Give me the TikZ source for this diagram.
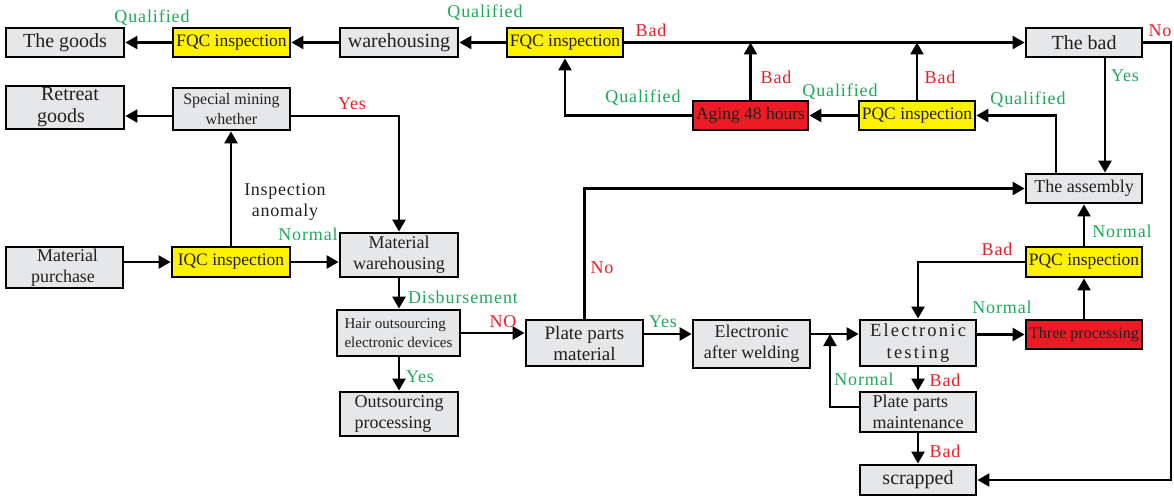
\documentclass[tikz,border=0pt]{standalone}
\usepackage{fontspec}
\setmainfont{Liberation Serif}
\usetikzlibrary{arrows.meta}
\definecolor{bxgray}{RGB}{230,231,233}
\definecolor{bxyel}{RGB}{255,242,0}
\definecolor{bxred}{RGB}{237,28,36}
\definecolor{lbgreen}{RGB}{28,170,90}
\definecolor{lbred}{RGB}{237,28,36}
\definecolor{txtc}{RGB}{35,31,32}
\tikzset{
  box/.style={draw=black, line width=2.8pt, inner sep=1pt, align=center, text=txtc,
    font=\fontsize{18}{21}\selectfont},
  gbox/.style={box, fill=bxgray},
  ybox/.style={box, fill=bxyel},
  rbox/.style={box, fill=bxred},
  big/.style={font=\fontsize{20}{22}\selectfont},
  conn/.style={line width=2.4pt, -{Triangle[length=12pt,width=13pt]}},
  lab/.style={inner sep=0pt, font=\fontsize{18}{21}\selectfont\addfontfeatures{LetterSpace=5}},
  glab/.style={lab, text=lbgreen},
  rlab/.style={lab, text=lbred},
  klab/.style={lab, text=txtc, align=center, font=\fontsize{18}{21}\selectfont\addfontfeatures{LetterSpace=4}}
}
\newcommand\bx[7]{%
  \pgfmathsetmacro\bw{#4-#2}\pgfmathsetmacro\bh{#5-#3}%
  \node[#6, minimum width=\bw pt, minimum height=\bh pt] (#1) at ({(#2+#4)/2},{(#3+#5)/2}) {#7};}
\begin{document}
\begin{tikzpicture}[x=1pt,y=-1pt]
\useasboundingbox (0,0) rectangle (1174,495);
% boxes
\bx{goods}{6}{28}{124}{57}{gbox,big}{The goods}
\bx{fqcA}{173}{28}{290}{57}{ybox,font=\fontsize{17.5}{20}\selectfont}{FQC inspection}
\bx{wareh}{340}{28}{458}{57}{gbox,big}{warehousing}
\bx{fqcB}{507}{28}{623}{57}{ybox,font=\fontsize{17.5}{20}\selectfont}{FQC inspection}
\bx{bad}{1026}{28}{1142}{57}{gbox,big}{The bad}
\bx{retreat}{6}{86}{124}{129}{gbox,big,align=left,font=\fontsize{20}{22}\selectfont}{\hspace*{10pt}Retreat\\\hspace*{6pt}goods}
\bx{special}{173}{88}{290}{130}{gbox,font=\fontsize{16}{20}\selectfont}{Special mining\\whether}
\bx{aging}{693}{101}{808}{130}{rbox,font=\fontsize{17.5}{20}\selectfont}{Aging 48 hours}
\bx{pqcA}{859}{101}{975}{130}{ybox,font=\fontsize{17.5}{20}\selectfont}{PQC inspection}
\bx{assembly}{1026}{174}{1142}{203}{gbox}{The assembly}
\bx{pqcB}{1026}{247}{1142}{277}{ybox,font=\fontsize{17.5}{20}\selectfont}{PQC inspection}
\bx{three}{1026}{320}{1142}{349}{rbox,inner sep=0pt,font=\fontsize{16}{20}\selectfont}{Three processing}
\bx{etest}{860}{320}{976}{366}{gbox,font=\fontsize{18.5}{22}\selectfont\addfontfeatures{LetterSpace=12}}{Electronic\\testing}
\bx{maint}{860}{392}{976}{432}{gbox,align=left}{Plate parts\\maintenance}
\bx{scrap}{860}{465}{976}{495}{gbox,big}{scrapped}
\bx{purchase}{6}{247}{123}{288}{gbox,align=left}{\hspace*{6pt}Material\\purchase}
\bx{iqc}{172}{247}{290}{277}{ybox,font=\fontsize{17.5}{20}\selectfont}{IQC inspection}
\bx{matware}{340}{233}{458}{277}{gbox}{Material\\warehousing}
\bx{hair}{337}{310}{460}{356}{gbox,align=left,font=\fontsize{15}{19}\selectfont}{Hair outsourcing\\electronic devices}
\bx{outs}{340}{392}{458}{436}{gbox,align=left}{Outsourcing\\processing}
\bx{ppm}{526}{320}{643}{366}{gbox,font=\fontsize{19}{21}\selectfont}{Plate parts\\material}
\bx{weld}{693}{320}{810}{368}{gbox}{Electronic\\after welding}
% helper coordinates
\coordinate (rt) at (1171,300);
\coordinate (jn) at (830,334);
% connectors
\draw[conn] (fqcA.west) -- (goods.east);
\draw[conn] (wareh.west) -- (fqcA.east);
\draw[conn] (fqcB.west) -- (wareh.east);
\draw[conn] (fqcB.east) -- (bad.west);
\draw[conn] (aging.north) -- (aging.north |- bad.west);
\draw[conn] (aging.west) -| (fqcB.south);
\draw[conn] (pqcA.west) -- (aging.east);
\draw[conn] (pqcA.north) -- (pqcA.north |- bad.west);
\draw[conn] ([xshift=-28pt]assembly.north) |- (pqcA.east);
\draw[conn] ([xshift=21pt]bad.south) -- ([xshift=21pt]assembly.north);
\draw[conn] (bad.east) -| (rt) |- (scrap.east);
\draw[conn] ([yshift=-7pt]special.west) -- ([yshift=-7pt]special.west -| retreat.east);
\draw[conn] ([yshift=-7pt]special.east) -| (matware.north);
\draw[conn] (iqc.north) -- (iqc.north |- special.south);
\draw[conn] (purchase.east |- iqc.west) -- (iqc.west);
\draw[conn] (iqc.east) -- (iqc.east -| matware.west);
\draw[conn] (matware.south) -- (matware.south |- hair.north);
\draw[conn] (hair.south -| outs.north) -- (outs.north);
\draw[conn] (hair.east) -- (hair.east -| ppm.west);
\draw[conn] (ppm.north) |- (assembly.west);
\draw[conn] ([yshift=9pt]ppm.east) -- ([yshift=9pt]ppm.east -| weld.west);
\draw[conn] ([yshift=10pt]weld.east) -- ([yshift=10pt]weld.east -| etest.west);
\draw[conn] ([yshift=5pt]maint.west) -| (jn);
\draw[conn] (etest.south) -- (maint.north);
\draw[conn] (maint.south) -- (scrap.north);
\draw[conn] (etest.east |- three.west) -- (three.west);
\draw[conn] (three.north) -- (pqcB.south);
\draw[conn] (pqcB.north) -- (assembly.south);
\draw[conn] (pqcB.west) -| (etest.north);
% labels
\node[glab] (l1) at (152,18) {Qualified};
\node[glab] (l2) at (485,13) {Qualified};
\node[rlab] (l3) at (651,30) {Bad};
\node[rlab] (l4) at (776,77) {Bad};
\node[glab] (l5) at (643,98) {Qualified};
\node[glab] (l6) at (840,92) {Qualified};
\node[rlab] (l7) at (940,77) {Bad};
\node[glab] (l8) at (1028,100) {Qualified};
\node[glab] (l9) at (1125,76) {Yes};
\node[rlab] (l10) at (1160,31) {No};
\node[rlab] (l11) at (352,104) {Yes};
\node[klab] (l12) at (285,202) {Inspection\\anomaly};
\node[glab] (l13) at (308,234) {Normal};
\node[glab] (l14) at (463,297) {Disbursement};
\node[rlab] (l15) at (503,322) {NO};
\node[glab] (l16) at (420,377) {Yes};
\node[rlab] (l17) at (602,268) {No};
\node[glab] (l18) at (663,322) {Yes};
\node[glab] (l19) at (864,379) {Normal};
\node[rlab] (l20) at (945,380) {Bad};
\node[rlab] (l21) at (945,451) {Bad};
\node[glab] (l22) at (1002,307) {Normal};
\node[glab] (l23) at (1122,231) {Normal};
\node[rlab] (l24) at (997,249) {Bad};
\end{tikzpicture}
\end{document}
